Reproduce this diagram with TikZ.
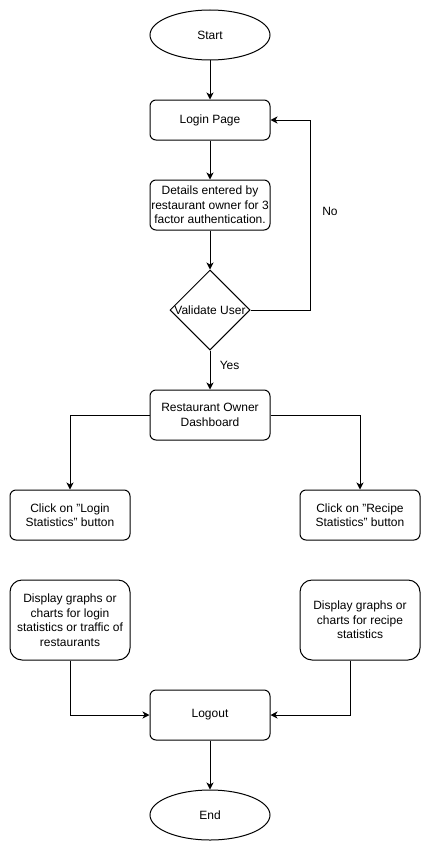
\documentclass[tikz,border=0pt]{standalone}
\usepackage{fontspec}
\setmainfont{Liberation Sans}
\usetikzlibrary{shapes.geometric,arrows.meta}

\tikzset{
	box/.style={draw, rounded corners=6pt, minimum width=120pt, minimum height=40pt, inner sep=0pt, align=center, font=\fontsize{12}{14.5}\selectfont},
	bigbox/.style={box, rounded corners=12pt, minimum height=80pt},
	term/.style={draw, ellipse, minimum width=120pt, minimum height=50pt, inner sep=0pt, font=\fontsize{12}{14.5}\selectfont},
	arr/.style={-{Stealth[length=7pt,width=7pt,inset=2pt]}},
	lbl/.style={font=\fontsize{12}{14.5}\selectfont}
}

\begin{document}
\begin{tikzpicture}[x=1pt,y=-1pt,line width=1pt]
	\useasboundingbox (0,0) rectangle (431,851);
	
	\node[term] (start) at (210,35) {Start};
	\node[box] (login) at (210,120) {Login Page};
	\node[box, minimum height=50pt] (details) at (210,205) {Details entered by\\restaurant owner for 3\\factor authentication.};
	\node[draw, diamond, minimum width=80pt, minimum height=80pt, inner sep=0pt, label={[lbl]center:Validate User}] (valid) at (210,310) {};
	\node[box, minimum height=50pt] (dash) at (210,415) {Restaurant Owner\\Dashboard};
	
	\node[box, minimum height=50pt] (clicklogin) at (70,515) {Click on "Login\\Statistics" button};
	\node[box, minimum height=50pt] (clickrecipe) at (360,515) {Click on "Recipe\\Statistics" button};
	\node[bigbox] (displogin) at (70,620) {Display graphs or\\charts for login\\statistics or traffic of\\restaurants};
	\node[bigbox] (disprecipe) at (360,620) {Display graphs or\\charts for recipe\\statistics};
	
	\node[box, minimum height=50pt] (logout) at (210,715) {Logout};
	\node[term] (end) at (210,815) {End};
	
	\coordinate (loop) at (310,120);
	
	\draw[arr] (start) -- (login);
	\draw[arr] (login) -- (details);
	\draw[arr] (details) -- (valid);
	\draw[arr] (valid.east) -| (loop) -- (login.east);
	\node[lbl] (no) at (330,211) {No};
	\draw[arr] (valid) -- node[lbl, pos=0.38, right=6pt] (yes) {Yes} (dash);
	
	\draw[arr] (dash.west) -| (clicklogin.north);
	\draw[arr] (dash.east) -| (clickrecipe.north);
	
	\draw[arr] (displogin.south) |- (logout.west);
	\draw[arr] ([xshift=-10pt]disprecipe.south) |- (logout.east);
	\draw[arr] (logout) -- (end);
\end{tikzpicture}
\end{document}
